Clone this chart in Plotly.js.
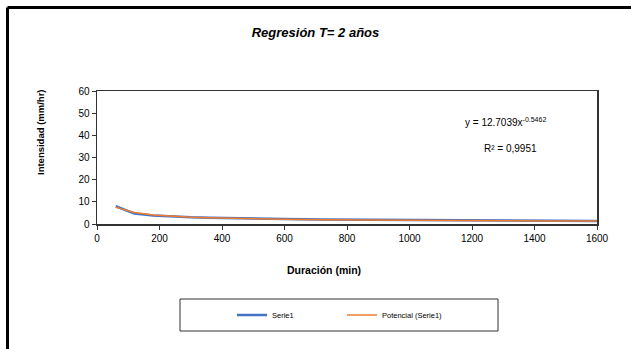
<!DOCTYPE html>
<html>
<head>
<meta charset="utf-8">
<script src="https://cdn.plot.ly/plotly-3.0.1.min.js"></script>
<style>html,body{margin:0;padding:0;background:#fff;}#chart{width:631px;height:349px;}</style>
</head>
<body>
<div id="chart"></div>
<script>
const duration = [60, 120, 180, 240, 300, 360, 480, 600, 720, 960, 1200, 1440, 1600];
const serie1 = [8.0, 4.7, 3.8, 3.3, 3.0, 2.8, 2.4, 2.2, 2.0, 1.75, 1.6, 1.45, 1.35];
const potencial = [7.6, 5.2, 4.1, 3.5, 3.1, 2.8, 2.4, 2.1, 1.95, 1.65, 1.5, 1.35, 1.3];
const xTicks = [0, 200, 400, 600, 800, 1000, 1200, 1400, 1600];
const yTicks = [0, 10, 20, 30, 40, 50, 60];
const titleText = "Regresión T= 2 años";
const xTitle = "Duración (min)";
const yTitle = "Intensidad (mm/hr)";
const eqText = "y = 12.7039x<sup>-0.5462</sup>";
const r2Text = "R² = 0,9951";

const FONT = "Liberation Sans, Arial, sans-serif";
const traces = [
  {x: duration, y: serie1, type: "scatter", mode: "lines", name: "Serie1",
   line: {color: "#4472C4", width: 2.5}},
  {x: duration, y: potencial, type: "scatter", mode: "lines", name: "Potencial (Serie1)",
   line: {color: "#ED7D31", width: 1.5}}
];
const layout = {
  width: 631, height: 349,
  margin: {l: 97, r: 34, t: 91, b: 125},
  paper_bgcolor: "#fff", plot_bgcolor: "#fff",
  font: {family: FONT, color: "#000", size: 10},
  title: {text: "<b><i>" + titleText + "</i></b>", font: {size: 13, family: FONT},
          x: 0.5, xanchor: "center", y: 1 - 32/349, yanchor: "middle"},
  xaxis: {range: [0, 1600], tickvals: xTicks, ticks: "outside", ticklen: 4, tickcolor: "#333",
          showline: true, linecolor: "#333", linewidth: 1.5, mirror: true, showgrid: false, zeroline: false,
          tickfont: {size: 10}},
  yaxis: {range: [0, 60], tickvals: yTicks, ticks: "outside", ticklen: 4, tickcolor: "#333",
          showline: true, linecolor: "#333", linewidth: 1.5, mirror: true, showgrid: false, zeroline: false,
          tickfont: {size: 10}},
  showlegend: true,
  legend: {orientation: "h", x: (232 - 97) / 500, xanchor: "left", y: (224 - 315) / 133, yanchor: "middle",
           font: {size: 7.5, family: FONT}, entrywidth: 65, entrywidthmode: "pixels",
           bgcolor: "rgba(0,0,0,0)", borderwidth: 0},
  annotations: [
    {xref: "paper", yref: "paper", x: (324 - 97) / 500, y: (224 - 270) / 133, text: "<b>" + xTitle + "</b>",
     showarrow: false, font: {size: 10.5}, xanchor: "center", yanchor: "middle"},
    {xref: "paper", yref: "paper", x: (40 - 97) / 500, y: (224 - 132) / 133, text: "<b>" + yTitle + "</b>",
     showarrow: false, font: {size: 9.5}, textangle: -90, xanchor: "center", yanchor: "middle"},
    {xref: "paper", yref: "paper", x: (505 - 97) / 500, y: (224 - 122) / 133, text: eqText,
     showarrow: false, font: {size: 10}, xanchor: "center", yanchor: "middle"},
    {xref: "paper", yref: "paper", x: (510 - 97) / 500, y: (224 - 148) / 133, text: r2Text,
     showarrow: false, font: {size: 10}, xanchor: "center", yanchor: "middle"}
  ],
  shapes: [
    {type: "rect", xref: "paper", yref: "paper",
     x0: (180 - 97) / 500, x1: (498 - 97) / 500, y0: (224 - 331) / 133, y1: (224 - 299) / 133,
     line: {color: "#333", width: 1}},
    {type: "line", xref: "paper", yref: "paper",
     x0: (7.5 - 97) / 500, x1: (640 - 97) / 500, y0: (224 - 7.5) / 133, y1: (224 - 7.5) / 133,
     line: {color: "#000", width: 3}},
    {type: "line", xref: "paper", yref: "paper",
     x0: (7.5 - 97) / 500, x1: (7.5 - 97) / 500, y0: (224 - 7.5) / 133, y1: (224 - 360) / 133,
     line: {color: "#000", width: 3}}
  ]
};
Plotly.newPlot("chart", traces, layout, {displayModeBar: false, staticPlot: true});
</script>
</body>
</html>
